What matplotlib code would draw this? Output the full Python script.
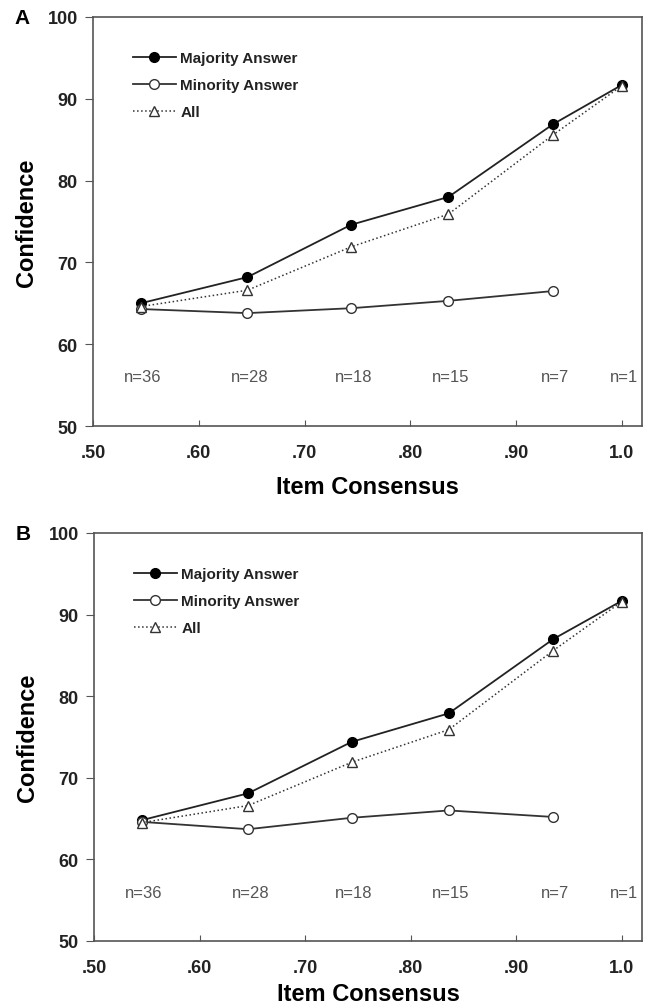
import matplotlib.pyplot as plt

plt.rcParams['font.family'] = ['Liberation Sans', 'DejaVu Sans']

# item consensus levels
consensus = [0.545, 0.646, 0.744, 0.836, 0.935, 1.0]
n_labels = ['n=36', 'n=28', 'n=18', 'n=15', 'n=7', 'n=1']

# panel A
majority_a = [65.0, 68.2, 74.6, 78.0, 86.9, 91.7]
minority_a = [64.3, 63.8, 64.4, 65.3, 66.5]
all_a = [64.6, 66.6, 71.9, 75.9, 85.6, 91.6]

# panel B
majority_b = [64.8, 68.1, 74.4, 77.9, 87.0, 91.7]
minority_b = [64.6, 63.7, 65.1, 66.0, 65.2]
all_b = [64.5, 66.6, 71.9, 75.9, 85.6, 91.6]

xticks = [0.5, 0.6, 0.7, 0.8, 0.9, 1.0]
xticklabels = ['.50', '.60', '.70', '.80', '.90', '1.0']
yticks = [50, 60, 70, 80, 90, 100]

W, H = 646, 1004


def draw_panel(ax, majority, minority, all_items, letter, xlabelpad):
    ax.plot(consensus, majority, '-', color='#222222', lw=1.3, marker='o',
            ms=7, mfc='black', mec='black', label='Majority Answer', zorder=3)
    ax.plot(consensus[:len(minority)], minority, '-', color='#333333', lw=1.3,
            marker='o', ms=7, mfc='white', mec='#333333', label='Minority Answer', zorder=3)
    ax.plot(consensus, all_items, ':', color='#333333', lw=1.1, marker='^',
            ms=7, mfc='white', mec='#333333', label='All', zorder=4)

    for x, lab in zip(consensus, n_labels):
        ax.text(x + 0.002, 56, lab, ha='center', va='center', fontsize=12, color='#555555')

    ax.set_xlim(0.5, 1.019)
    ax.set_ylim(50, 100)
    ax.set_xticks(xticks)
    ax.set_xticklabels(xticklabels)
    ax.set_yticks(yticks)
    ax.tick_params(axis='x', direction='in', length=4, labelsize=13, pad=13, color='#555555')
    ax.tick_params(axis='y', direction='out', length=6, labelsize=13, pad=5, color='#555555')
    for lab in ax.get_xticklabels() + ax.get_yticklabels():
        lab.set_fontweight('bold')
        lab.set_color('#222222')
    for sp in ax.spines.values():
        sp.set_color('#555555')
        sp.set_linewidth(1.2)

    ax.set_ylabel('Confidence', fontsize=17, fontweight='bold', labelpad=7)
    ax.set_xlabel('Item Consensus', fontsize=17, fontweight='bold', labelpad=xlabelpad)

    leg = ax.legend(loc='upper left', bbox_to_anchor=(0.048, 0.95), frameon=False,
                    handlelength=2.8, handletextpad=0.3, labelspacing=0.85,
                    prop={'weight': 'bold', 'size': 11})
    for t in leg.get_texts():
        t.set_color('#222222')

    ax.text(-0.13, 1.0, letter, transform=ax.transAxes, fontsize=15,
            fontweight='bold', ha='center', va='center')


fig = plt.figure(figsize=(W / 100, H / 100), dpi=100)
ax_a = fig.add_axes([93 / W, 1 - 427 / H, (642 - 93) / W, (427 - 18) / H])
ax_b = fig.add_axes([94 / W, 1 - 942 / H, (642 - 94) / W, (942 - 534) / H])

draw_panel(ax_a, majority_a, minority_a, all_a, 'A', 10)
draw_panel(ax_b, majority_b, minority_b, all_b, 'B', 4)

fig.savefig('out.png', dpi=100)
